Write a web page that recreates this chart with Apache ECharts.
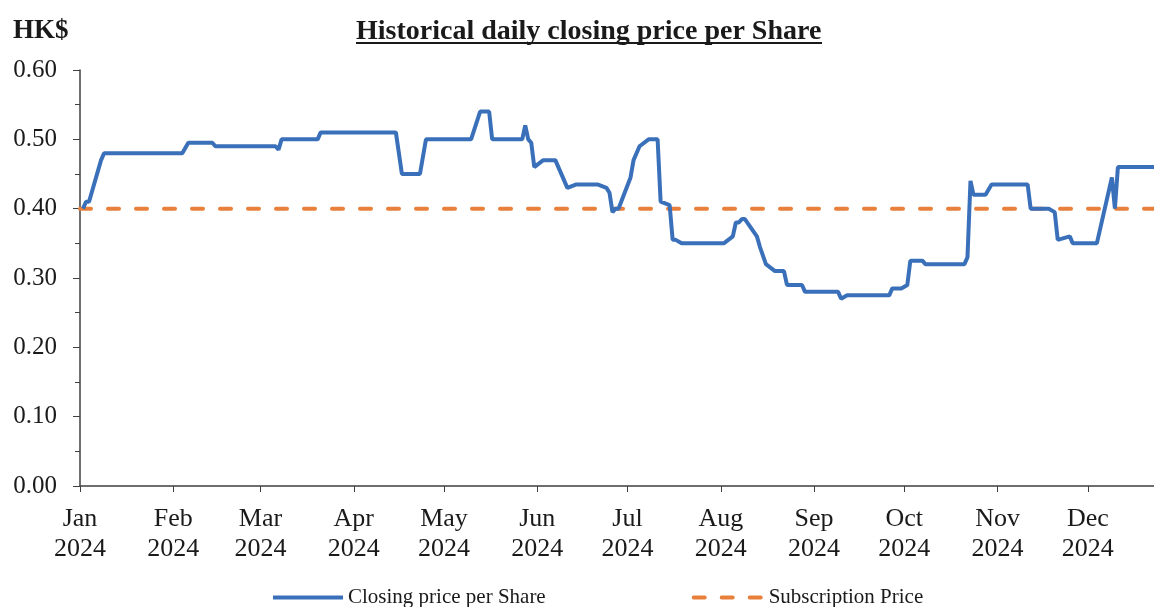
<!DOCTYPE html>
<html>
<head>
<meta charset="utf-8">
<script src="https://cdn.jsdelivr.net/npm/echarts@6/dist/echarts.min.js"></script>
<style>
  html, body { margin: 0; padding: 0; background: #fff; }
  #chart { width: 1154px; height: 607px; }
</style>
</head>
<body>
<div id="chart"></div>
<script>
// closing price, only the days where the line changes direction
const dates = [
  '2024-01-02', '2024-01-03', '2024-01-04', '2024-01-08', '2024-01-09', '2024-02-04',
  '2024-02-06', '2024-02-14', '2024-02-15', '2024-03-06', '2024-03-07', '2024-03-08',
  '2024-03-20', '2024-03-21', '2024-04-15', '2024-04-17', '2024-04-23', '2024-04-25',
  '2024-05-10', '2024-05-13', '2024-05-16', '2024-05-17', '2024-05-27', '2024-05-28',
  '2024-05-29', '2024-05-30', '2024-05-31', '2024-06-03', '2024-06-07', '2024-06-11',
  '2024-06-14', '2024-06-21', '2024-06-24', '2024-06-25', '2024-06-26', '2024-06-27',
  '2024-06-28', '2024-07-02', '2024-07-03', '2024-07-05', '2024-07-08', '2024-07-11',
  '2024-07-12', '2024-07-15', '2024-07-16', '2024-07-17', '2024-07-19', '2024-08-02',
  '2024-08-05', '2024-08-06', '2024-08-07', '2024-08-08', '2024-08-09', '2024-08-13',
  '2024-08-14', '2024-08-16', '2024-08-19', '2024-08-22', '2024-08-23', '2024-08-28',
  '2024-08-29', '2024-09-09', '2024-09-10', '2024-09-12', '2024-09-26', '2024-09-27',
  '2024-09-30', '2024-10-02', '2024-10-03', '2024-10-07', '2024-10-08', '2024-10-21',
  '2024-10-22', '2024-10-23', '2024-10-24', '2024-10-28', '2024-10-30', '2024-11-11',
  '2024-11-12', '2024-11-18', '2024-11-20', '2024-11-21', '2024-11-25', '2024-11-26',
  '2024-12-04', '2024-12-09', '2024-12-10', '2024-12-11', '2024-12-23'
];
const prices = [
  0.40, 0.41, 0.41, 0.47, 0.48, 0.48,
  0.495, 0.495, 0.49, 0.49, 0.485, 0.50,
  0.50, 0.51, 0.51, 0.45, 0.45, 0.50,
  0.50, 0.54, 0.54, 0.50, 0.50, 0.52,
  0.50, 0.495, 0.46, 0.47, 0.47, 0.43,
  0.435, 0.435, 0.43, 0.423, 0.395, 0.40,
  0.40, 0.445, 0.47, 0.49, 0.50, 0.50,
  0.41, 0.405, 0.355, 0.355, 0.35, 0.35,
  0.36, 0.38, 0.38, 0.385, 0.385, 0.36,
  0.345, 0.32, 0.31, 0.31, 0.29, 0.29,
  0.28, 0.28, 0.27, 0.275, 0.275, 0.285,
  0.285, 0.29, 0.325, 0.325, 0.32, 0.32,
  0.33, 0.44, 0.42, 0.42, 0.435, 0.435,
  0.40, 0.40, 0.395, 0.355, 0.36, 0.35,
  0.35, 0.445, 0.40, 0.46, 0.46
];
const subscriptionPrice = 0.40;
const subscriptionDates = ['2024-01-01', '2024-12-23'];
const monthNames = ['Jan', 'Feb', 'Mar', 'Apr', 'May', 'Jun', 'Jul', 'Aug', 'Sep', 'Oct', 'Nov', 'Dec'];
const yTicks = [0, 0.1, 0.2, 0.3, 0.4, 0.5, 0.6];

const font = '"Liberation Serif", "Times New Roman", serif';
const DAY = 86400000;
const ink = '#1a1a1a';
const axisColor = '#404040';

const chart = echarts.init(document.getElementById('chart'));

chart.setOption({
  animation: false,
  textStyle: { fontFamily: font, color: ink },
  title: {
    text: 'Historical daily closing price per Share',
    left: 351,
    top: 13,
    textStyle: { fontFamily: font, fontSize: 28, fontWeight: 'bold', color: ink }
  },
  graphic: [
    {
      type: 'text', left: 13, top: 18,
      style: { text: 'HK$', font: 'bold 27px ' + font, fill: ink }
    },
    {
      // title underline
      type: 'line',
      shape: { x1: 356, y1: 43, x2: 822, y2: 43 },
      style: { stroke: ink, lineWidth: 2 }
    }
  ],
  grid: { left: 80, right: 0, top: 70, bottom: 121, containLabel: false },
  legend: {
    top: 582,
    left: 266,
    itemGap: 146,
    itemWidth: 70,
    itemHeight: 14,
    itemStyle: { opacity: 0 },
    lineStyle: { width: 4 },
    textStyle: { fontFamily: font, fontSize: 21, color: ink },
    data: ['Closing price per Share', 'Subscription Price']
  },
  xAxis: {
    type: 'time',
    min: '2024-01-01',
    max: '2024-12-23',
    minInterval: 28 * DAY,
    maxInterval: 31 * DAY,
    splitLine: { show: false },
    axisLine: { lineStyle: { color: axisColor, width: 1.5 } },
    axisTick: { show: true, length: 6, lineStyle: { color: axisColor } },
    axisLabel: {
      fontFamily: font,
      fontSize: 26,
      color: ink,
      lineHeight: 30,
      margin: 18,
      hideOverlap: false,
      formatter: function (v) {
        const d = new Date(v);
        return monthNames[d.getMonth()] + '\n' + d.getFullYear();
      }
    }
  },
  yAxis: {
    type: 'value',
    min: yTicks[0],
    max: yTicks[yTicks.length - 1],
    interval: 0.1,
    splitLine: { show: false },
    axisLine: { show: true, lineStyle: { color: axisColor, width: 1.5 } },
    axisTick: { show: true, length: 7, lineStyle: { color: axisColor } },
    minorTick: { show: true, splitNumber: 2, length: 5, lineStyle: { color: axisColor } },
    axisLabel: {
      fontFamily: font,
      fontSize: 25,
      color: ink,
      margin: 23,
      formatter: function (v) { return v.toFixed(2); }
    }
  },
  series: [
    {
      name: 'Closing price per Share',
      type: 'line',
      symbol: 'none',
      z: 3,
      lineStyle: { color: '#3A70B9', width: 4 },
      itemStyle: { color: '#3A70B9' },
      data: dates.map((d, i) => [d, prices[i]])
    },
    {
      name: 'Subscription Price',
      type: 'line',
      symbol: 'none',
      z: 2,
      lineStyle: { color: '#E8803B', width: 4, type: [11, 17], cap: 'round' },
      itemStyle: { color: '#E8803B' },
      data: subscriptionDates.map(d => [d, subscriptionPrice])
    }
  ]
});
</script>
</body>
</html>
